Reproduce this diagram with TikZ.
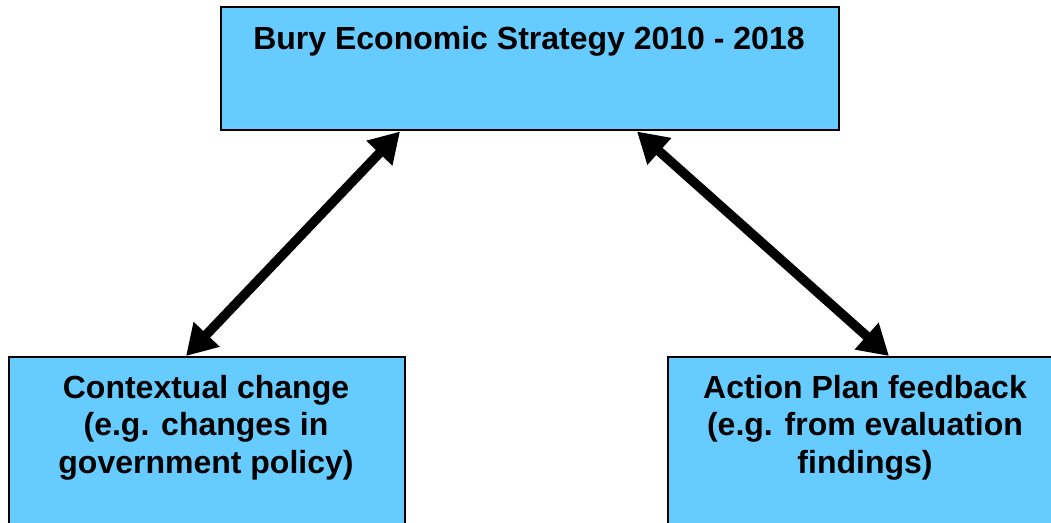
\documentclass[tikz,border=0pt]{standalone}
\usepackage{fontspec}
\setmainfont{Liberation Sans}
\usetikzlibrary{arrows.meta}
\definecolor{boxblue}{HTML}{66CCFF}
\tikzset{
  box/.style={draw=black, line width=2pt, fill=boxblue, inner sep=0pt, anchor=south west},
  boxtext/.style={font=\bfseries\fontsize{32pt}{37.5pt}\selectfont, align=center, inner sep=0pt, anchor=base},
  link/.style={line width=9.5pt, {Triangle[length=30pt,width=34pt]}-{Triangle[length=30pt,width=34pt]}}
}
\begin{document}
\begin{tikzpicture}[x=1pt,y=1pt]
\useasboundingbox (0,0) rectangle (1051,522);
\node[box, minimum width=618pt, minimum height=123pt] (top) at (220,390.5) {};
\node[box, minimum width=396pt, minimum height=180pt] (cl) at (8,-16) {};
\node[box, minimum width=396pt, minimum height=180pt] (cr) at (667,-16) {};
\node[boxtext] (toptext) at (529,472) {Bury Economic Strategy 2010 - 2018};
\node[boxtext] (cltext) at (206,49) {Contextual change\\(e.g. changes in\\government policy)};
\node[boxtext] (crtext) at (865,49) {Action Plan feedback\\(e.g. from evaluation\\findings)};
\draw[link] ([xshift=180pt]top.south west) -- ([xshift=178pt]cl.north west);
\draw[link] ([xshift=417pt]top.south west) -- ([xshift=222pt]cr.north west);
\end{tikzpicture}
\end{document}
